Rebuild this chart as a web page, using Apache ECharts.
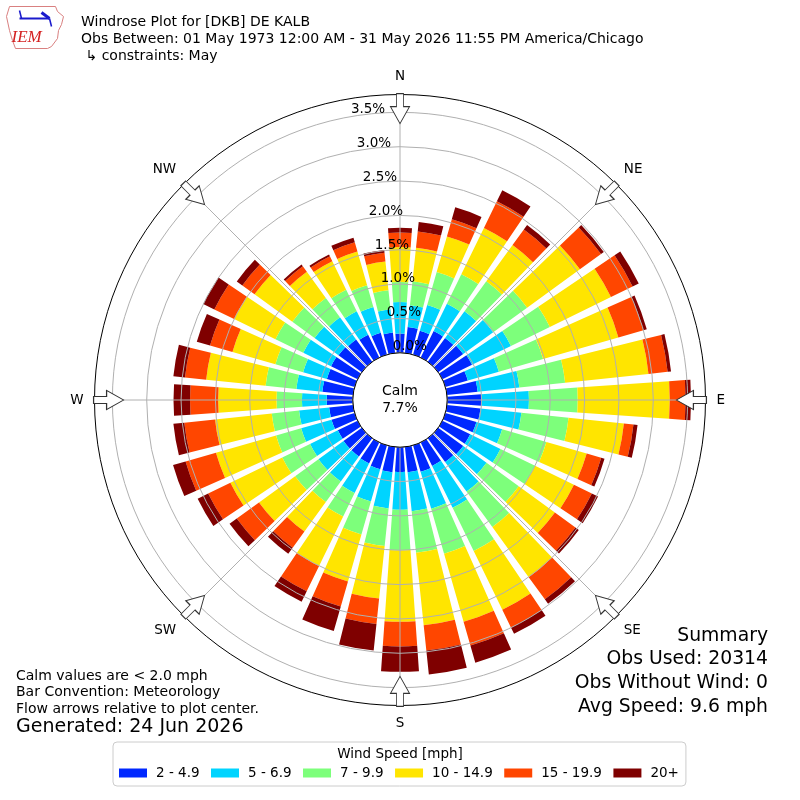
<!DOCTYPE html>
<html><head><meta charset="utf-8">
<script src="https://cdn.jsdelivr.net/npm/echarts@6.0.0/dist/echarts.min.js"></script>
<style>html,body{margin:0;padding:0;background:#fff}#c{width:800px;height:800px}</style>
</head><body><div id="c"></div>
<script>
// ---- data ----
const directions = ['0','10','20','30','40','50','60','70','80','90','100','110','120','130','140','150','160','170',
  '180','190','200','210','220','230','240','250','260','270','280','290','300','310','320','330','340','350'];
const speedBins = ['2 - 4.9','5 - 6.9','7 - 9.9','10 - 14.9','15 - 19.9','20+'];
const binColors = ['#0028ff','#00d4ff','#7dff7b','#ffe500','#ff4600','#7f0000'];
// percent of observations per direction, per speed bin
const bin_2_49   = [.28,.38,.36,.43,.43,.45,.48,.34,.45,.50,.49,.47,.45,.45,.43,.38,.40,.37,.36,.37,.36,.34,.33,.33,.32,.35,.35,.38,.45,.42,.43,.42,.40,.37,.33,.30];
const bin_5_69   = [.46,.32,.39,.44,.48,.54,.63,.47,.61,.69,.60,.39,.49,.42,.53,.68,.56,.57,.55,.53,.49,.48,.45,.45,.45,.46,.44,.36,.38,.36,.45,.43,.40,.38,.39,.34];
const bin_7_99   = [.29,.35,.50,.48,.54,.61,.63,.67,.67,.71,.69,.67,.56,.58,.64,.70,.68,.61,.59,.55,.50,.38,.37,.42,.45,.38,.40,.37,.45,.42,.45,.40,.35,.35,.33,.28];
const bin_10_149 = [.51,.49,.54,.75,.65,.95,.99,1.14,1.22,1.34,.81,.61,.63,.65,.90,.95,1.03,1.06,1.04,.77,.71,.80,.53,.65,.84,.91,.83,.85,.87,.65,.67,.68,.47,.46,.51,.42];
const bin_15_199 = [.21,.24,.26,.43,.28,.38,.35,.38,.28,.23,.14,.22,.29,.37,.40,.29,.36,.37,.36,.37,.38,.41,.29,.40,.36,.46,.45,.41,.31,.34,.32,.22,.10,.08,.14,.13];
const bin_20p    = [.07,.14,.18,.18,.08,.05,.10,.05,.05,.08,.06,.05,.10,.06,.08,.10,.26,.35,.37,.39,.37,.17,.11,.13,.17,.19,.16,.24,.17,.20,.18,.10,.03,.03,.07,.04];
const radiusMax = 3.76;
const radiusStep = 0.5;
const compassLabels = ['N','NE','E','SE','S','SW','W','NW'];
const compassAngles = [0,45,90,135,180,225,270,315];
const calmPct = 7.7;
const headerLines = ['Windrose Plot for [DKB] DE KALB',
  'Obs Between: 01 May 1973 12:00 AM - 31 May 2026 11:55 PM America/Chicago',
  ' \u21b3 constraints: May'];
const noteLines = ['Calm values are < 2.0 mph','Bar Convention: Meteorology','Flow arrows relative to plot center.'];
const generatedLine = 'Generated: 24 Jun 2026';
const summaryLines = ['Summary','Obs Used: 20314','Obs Without Wind: 0','Avg Speed: 9.6 mph'];
const legendTitle = 'Wind Speed [mph]';

// ---- chart ----
const FONT = 'DejaVu Sans';
const R_IN = 47.2, R_OUT = 305.5;
const binData = [bin_2_49, bin_5_69, bin_7_99, bin_10_149, bin_15_199, bin_20p];
const chart = echarts.init(document.getElementById('c'));

const isStep = v => Math.abs(v / radiusStep - Math.round(v / radiusStep)) < 1e-6;
const gridColors = [];
for (let v = 0; v <= radiusMax + 1e-9; v += radiusStep) gridColors.push('#b0b0b0');
gridColors.push('rgba(0,0,0,0)');

const barSeries = binData.map((d, i) => ({
  type: 'bar', name: speedBins[i], coordinateSystem: 'polar', polarIndex: 0,
  stack: 'wind', data: d, barCategoryGap: '20%',
  itemStyle: { color: binColors[i] }, silent: true, z: 2
}));

const arrowPath = 'path://M6,0 L13,0 L13,13 L19,13 L9.5,30 L0,13 L6,13 Z';

const summaryTexts = summaryLines.map((t, i) => ({
  type: 'text', x: 768, y: 636 + i * 23.6,
  style: { text: t, fill: '#000', font: '18.8px "DejaVu Sans"', align: 'right', verticalAlign: 'middle' }
}));

const option = {
  backgroundColor: '#fff',
  animation: false,
  textStyle: { fontFamily: FONT },
  title: [
    { text: headerLines.join('\n'), left: 76, top: 9,
      textStyle: { fontFamily: FONT, fontSize: 14, fontWeight: 'normal', lineHeight: 17, color: '#000' } },
    { text: noteLines.join('\n'), left: 11, top: 663,
      textStyle: { fontFamily: FONT, fontSize: 14, fontWeight: 'normal', lineHeight: 16.5, color: '#000' } },
    { text: generatedLine, left: 11, top: 713,
      textStyle: { fontFamily: FONT, fontSize: 19, fontWeight: 'normal', color: '#000' } },
    { text: legendTitle, left: 'center', top: 742,
      textStyle: { fontFamily: FONT, fontSize: 13.5, fontWeight: 'normal', color: '#000' } }
  ],
  legend: {
    data: speedBins, left: 113, top: 742, padding: [24, 7, 6, 6],
    itemGap: 11.5, itemWidth: 28, itemHeight: 9, icon: 'rect',
    borderColor: '#cccccc', borderWidth: 1, borderRadius: 4,
    textStyle: { fontFamily: FONT, fontSize: 13.5, color: '#000', padding: [0, 0, 0, 4] },
    selectedMode: false
  },
  polar: [
    { center: ['50%', '50%'], radius: [R_IN, R_OUT] },
    { center: ['50%', '50%'], radius: [R_IN, R_OUT] },
    { center: [418, 393], radius: [R_IN, R_OUT] }
  ],
  angleAxis: [
    { polarIndex: 0, type: 'category', data: directions, startAngle: 95, clockwise: true,
      axisLine: { show: true, lineStyle: { color: '#000', width: 1 } },
      axisTick: { show: false }, axisLabel: { show: false }, splitLine: { show: false }, z: 1 },
    { polarIndex: 1, type: 'value', min: 0, max: 360, interval: 45, startAngle: 90, clockwise: true,
      axisLine: { show: false }, axisTick: { show: false },
      axisLabel: { margin: 11, fontFamily: FONT, fontSize: 13.5, color: '#000',
        formatter: v => (v >= 360 ? '' : compassLabels[compassAngles.indexOf(Math.round(v))] || '') },
      splitLine: { show: true, lineStyle: { color: '#b0b0b0', width: 1 } }, z: 3 },
    { polarIndex: 2, type: 'value', min: 0, max: 360, startAngle: 100, clockwise: true,
      axisLine: { show: false }, axisTick: { show: false }, axisLabel: { show: false }, splitLine: { show: false } }
  ],
  radiusAxis: [
    { polarIndex: 0, type: 'value', min: 0, max: radiusMax, interval: radiusStep,
      axisLine: { show: false }, axisTick: { show: false }, axisLabel: { show: false },
      splitLine: { show: true, lineStyle: { color: gridColors, width: 1 } }, z: 3 },
    { polarIndex: 1, type: 'value', min: 0, max: radiusMax,
      axisLine: { show: false }, axisTick: { show: false }, axisLabel: { show: false }, splitLine: { show: false } },
    { polarIndex: 2, type: 'value', min: 0, max: radiusMax, interval: radiusStep,
      axisLine: { show: false }, axisTick: { show: false }, splitLine: { show: false },
      axisLabel: { margin: 0, align: 'center', verticalAlign: 'middle', fontFamily: FONT, fontSize: 13.5, color: '#000',
        formatter: v => (isStep(v) ? v.toFixed(1) + '%' : '') }, z: 4 }
  ],
  series: barSeries.concat([
    { type: 'scatter', coordinateSystem: 'polar', polarIndex: 1, silent: true, z: 6,
      symbol: arrowPath, symbolSize: [19, 30],
      itemStyle: { color: '#fff', borderColor: '#333', borderWidth: 1, opacity: 1 },
      data: compassAngles.map(a => ({ value: [3.555, a], symbolRotate: -a })) },
    { type: 'pie', center: ['50%', '50%'], radius: [0, R_IN], silent: true, z: 5,
      data: [{ value: calmPct, name: 'Calm' }],
      itemStyle: { color: '#fff', borderColor: '#000', borderWidth: 1 },
      label: { position: 'center', formatter: 'Calm\n' + calmPct.toFixed(1) + '%', fontFamily: FONT, fontSize: 14, lineHeight: 17, color: '#000' },
      labelLine: { show: false }, emphasis: { disabled: true } }
  ]),
  graphic: summaryTexts.concat([
    { type: 'group', left: 4, top: 4, children: [
      { type: 'polyline', shape: { points: [[6,4],[52,4],[54,9],[60,14],[58,22],[55,28],[54,36],[48,44],[44,46],[12,46],[9,38],[6,28],[3,14],[6,4]] },
        style: { stroke: '#d98080', lineWidth: 1, fill: 'none' } },
      { type: 'line', shape: { x1: 16, y1: 16, x2: 46, y2: 16 }, style: { stroke: '#1a1acc', lineWidth: 2 } },
      { type: 'line', shape: { x1: 16, y1: 8, x2: 18, y2: 16 }, style: { stroke: '#1a1acc', lineWidth: 1.5 } },
      { type: 'line', shape: { x1: 38, y1: 10, x2: 46, y2: 16 }, style: { stroke: '#1a1acc', lineWidth: 3 } },
      { type: 'line', shape: { x1: 46, y1: 16, x2: 48, y2: 24 }, style: { stroke: '#1a1acc', lineWidth: 1.5 } },
      { type: 'text', x: 8, y: 27, style: { text: 'IEM', fill: '#d42020', font: 'italic 17px "Liberation Serif", serif' } }
    ] }
  ])
};
chart.setOption(option);
</script></body></html>
